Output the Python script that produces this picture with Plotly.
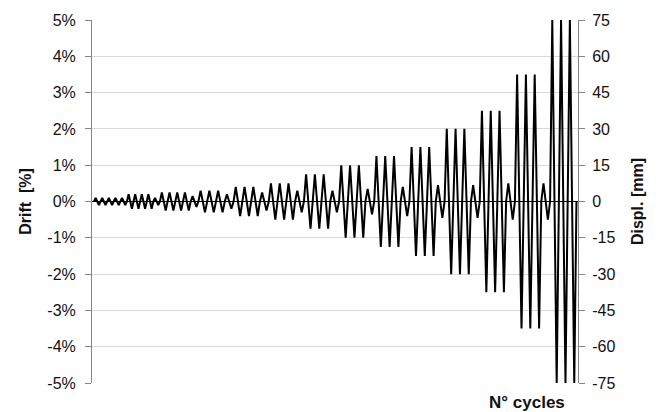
import plotly.graph_objects as go

# Loading protocol: drift amplitude of each cycle (%) and its duration (time units)
cycle_drift = (
    [0.1] * 5
    + [0.2] * 4 + [0.1]
    + [0.25] * 4 + [0.15]
    + [0.3] * 3 + [0.2]
    + [0.4] * 3 + [0.25]
    + [0.5] * 3 + [0.3]
    + [0.75] * 3 + [0.3]
    + [1.0] * 3 + [0.35]
    + [1.25] * 3 + [0.4]
    + [1.5] * 3 + [0.45]
    + [2.0] * 3 + [0.45]
    + [2.5] * 3 + [0.5]
    + [3.5] * 3 + [0.5]
    + [5.0] * 3
)
cycle_len = (
    [3.0] * 5
    + [3.0] * 5
    + [3.5] * 5
    + [4.0] * 43
)

# Drift axis ticks and the matching displacement axis (1% drift = 15 mm)
drift_ticks = [5, 4, 3, 2, 1, 0, -1, -2, -3, -4, -5]
drift_labels = ["5%", "4%", "3%", "2%", "1%", "0%", "-1%", "-2%", "-3%", "-4%", "-5%"]
displ_ticks = [75, 60, 45, 30, 15, 0, -15, -30, -45, -60, -75]
displ_labels = ["75", "60", "45", "30", "15", "0", "-15", "-30", "-45", "-60", "-75"]
mm_per_drift = 15.0

# Turning points of the triangular history
t, d = [0.0], [0.0]
t0 = 0.0
for amp, dur in zip(cycle_drift, cycle_len):
    t += [t0 + dur * 0.25, t0 + dur * 0.5, t0 + dur * 0.75, t0 + dur]
    d += [amp, 0.0, -amp, 0.0]
    t0 += dur

FONT = "Liberation Sans, Arial, sans-serif"
GRID = "#d9d9d9"
AXIS = "#868686"
TXT = "#111111"

fig = go.Figure()
fig.add_trace(go.Scatter(
    x=t, y=d, mode="lines",
    line=dict(color="black", width=2),
    hoverinfo="skip", showlegend=False, yaxis="y",
))
fig.add_trace(go.Scatter(
    x=t, y=[v * mm_per_drift for v in d], mode="lines",
    line=dict(color="rgba(0,0,0,0)", width=0),
    hoverinfo="skip", showlegend=False, yaxis="y2",
))

fig.update_layout(
    width=664, height=412,
    margin=dict(l=92, r=86, t=20, b=29),
    paper_bgcolor="white", plot_bgcolor="white",
    font=dict(family=FONT, size=16, color=TXT),
    xaxis=dict(
        range=[-0.9, t0 + 0.7],
        showgrid=False, showticklabels=False, ticks="",
        zeroline=False, showline=False,
    ),
    yaxis=dict(
        range=[-5, 5],
        tickvals=drift_ticks, ticktext=drift_labels,
        showgrid=True, gridcolor=GRID, gridwidth=1,
        zeroline=True, zerolinecolor="black", zerolinewidth=1,
        showline=True, linecolor=AXIS, linewidth=1,
        ticks="outside", ticklen=6, tickcolor=AXIS,
        ticklabelstandoff=6,
        tickfont=dict(size=16),
        title=dict(text="<b>Drift  [%]</b>", font=dict(size=16), standoff=11),
    ),
    yaxis2=dict(
        range=[-75, 75], overlaying="y", side="right",
        tickvals=displ_ticks, ticktext=displ_labels,
        showgrid=False, zeroline=False,
        showline=True, linecolor=AXIS, linewidth=1,
        ticks="outside", ticklen=6, tickcolor=AXIS,
        ticklabelstandoff=4,
        tickfont=dict(size=16),
        title=dict(text="<b>Displ. [mm]</b>", font=dict(size=16), standoff=17),
    ),
    annotations=[dict(
        text="<b>N° cycles</b>", xref="paper", yref="paper",
        x=0.895, y=-0.055, xanchor="center", yanchor="middle",
        showarrow=False, font=dict(size=17),
    )],
)

fig.write_html("out.html")
